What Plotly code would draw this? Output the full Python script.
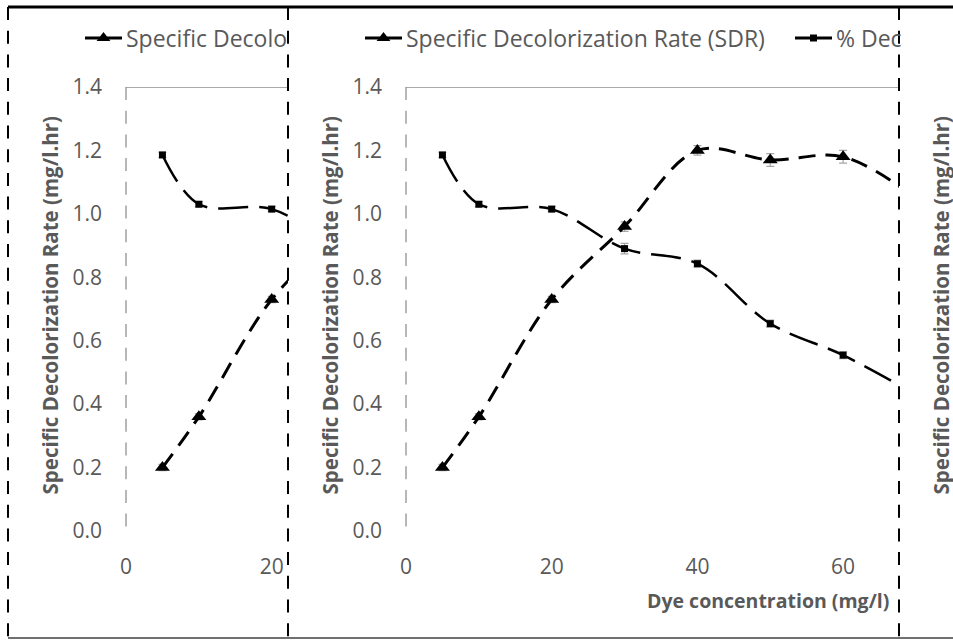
import plotly.graph_objects as go

W, H = 953, 640

# ---- data -------------------------------------------------------------
dye_conc = [5, 10, 20, 30, 40, 50, 60, 70]                 # mg/l
sdr = [0.20, 0.36, 0.73, 0.96, 1.20, 1.17, 1.18, 1.05]     # mg/l.hr
sdr_err = [0.01, 0.01, 0.01, 0.015, 0.015, 0.02, 0.02, 0.02]
pct_decol = [84.7, 73.6, 72.5, 63.6, 60.2, 46.7, 39.6, 30.7]  # %
pct_err = [0.6, 0.6, 0.6, 1.2, 0.8, 0.8, 0.8, 0.8]

y_tick_vals = [0.0, 0.2, 0.4, 0.6, 0.8, 1.0, 1.2, 1.4]
x_tick_vals = [0, 20, 40, 60]

sdr_name = "Specific Decolorization Rate (SDR)"
pct_name = "% Decolorization"
y_title = "Specific Decolorization Rate (mg/l.hr)"
x_title = "Dye concentration (mg/l)"

# ---- geometry helpers (pixel -> paper) --------------------------------
def px(x):
    return x / W


def py(y):
    return 1 - y / H


GREY_TXT = "#595959"
FONT = "Open Sans"
TICK_SIZE = 21
LEGEND_SIZE = 23
Y_TITLE_SIZE = 20.5
X_TITLE_SIZE = 19.5
BAND_DASH = "13px,10.7px"

# repeated chart strips: (left edge, right edge) in pixels
strips = [(8, 288), (288, 899), (899, 953)]
PLOT_OFFSET = 118          # strip edge -> plot-area left
PX_PER_UNIT = 7.285        # x-axis scale
Y_TOP_PX, Y_BOT_PX = 87, 531

fig = go.Figure()
layout = dict(
    width=W, height=H, autosize=False,
    margin=dict(l=0, r=0, t=0, b=0, pad=0),
    paper_bgcolor="white",
    plot_bgcolor="rgba(0,0,0,0)",
    showlegend=False,
    font=dict(family=FONT, color=GREY_TXT, size=17),
)
shapes = []
annotations = []

panel_idx = 0
for (left, right) in strips:
    plot_left = left + PLOT_OFFSET
    # y-axis title of every strip
    annotations.append(dict(
        x=px(left + 41.5), y=py(305), xref="paper", yref="paper",
        xanchor="center", yanchor="middle",
        text=y_title, textangle=-90, showarrow=False,
        font=dict(family=FONT, size=Y_TITLE_SIZE, color=GREY_TXT,
                  weight="bold"),
    ))
    if plot_left >= right:
        continue
    panel_idx += 1
    k = panel_idx
    xa = "x" if k == 1 else f"x{k}"
    ya = "y" if k == 1 else f"y{k}"
    ya2_num = 2 + k
    ya2 = f"y{ya2_num}"
    x_max = (right - plot_left) / PX_PER_UNIT

    layout[f"xaxis{'' if k == 1 else k}"] = dict(
        domain=[px(plot_left), px(right)], range=[0, x_max],
        anchor=ya, tickvals=x_tick_vals, showgrid=False, zeroline=False,
        showline=False, ticks="", ticklabelstandoff=21, automargin=False,
        tickfont=dict(family=FONT, size=TICK_SIZE, color=GREY_TXT),
    )
    layout[f"yaxis{'' if k == 1 else k}"] = dict(
        domain=[py(Y_BOT_PX), py(Y_TOP_PX)], range=[0, 1.4],
        anchor=xa, tickvals=y_tick_vals, tickformat=".1f",
        showgrid=False, zeroline=False, showline=False, ticks="",
        ticklabelstandoff=23, automargin=False,
        tickfont=dict(family=FONT, size=TICK_SIZE, color=GREY_TXT),
    )
    layout[f"yaxis{ya2_num}"] = dict(
        overlaying=ya, anchor=xa, side="right", range=[0, 100],
        visible=False, showgrid=False, zeroline=False, automargin=False,
    )

    # plot-area frame: left axis line and top border
    shapes.append(dict(type="line", xref=f"{xa} domain", yref=ya,
                       x0=0, x1=0, y0=1.4, y1=0,
                       line=dict(color="#a0a0a0", width=1.5, dash=BAND_DASH)))
    shapes.append(dict(type="line", xref=f"{xa} domain", yref=ya,
                       x0=0, x1=1, y0=1.4, y1=1.4,
                       line=dict(color="#8c8c8c", width=1.5)))

    fig.add_trace(go.Scatter(
        x=dye_conc, y=pct_decol, xaxis=xa, yaxis=ya2, name=pct_name,
        mode="lines+markers", line=dict(color="black", width=2.5,
                                        shape="spline", dash="30px,11px"),
        marker=dict(symbol="square", size=7, color="black"),
        error_y=dict(type="data", array=pct_err, color="#a6a6a6",
                     thickness=1.2, width=4),
    ))
    fig.add_trace(go.Scatter(
        x=dye_conc, y=sdr, xaxis=xa, yaxis=ya, name=sdr_name,
        mode="lines+markers", line=dict(color="black", width=3,
                                        shape="spline", dash="17px,10px"),
        marker=dict(symbol="triangle-up", size=13, color="black"),
        error_y=dict(type="data", array=sdr_err, color="#a6a6a6",
                     thickness=1.2, width=4),
    ))

# ---- overlay in pixel units for legend keys ----------------------------
layout["xaxis9"] = dict(domain=[0, 1], range=[0, W], visible=False,
                        anchor="y9", fixedrange=True, automargin=False)
layout["yaxis9"] = dict(domain=[0, 1], range=[H, 0], visible=False,
                        anchor="x9", fixedrange=True, automargin=False)

LEG_Y = 38
legend_keys = [
    (85, "triangle-up", 12, "Specific Decolo"),
    (365, "triangle-up", 12, sdr_name),
    (795, "square", 7, "% Dec"),
]
for x0, sym, size, label in legend_keys:
    fig.add_trace(go.Scatter(
        x=[x0, x0 + 37], y=[LEG_Y, LEG_Y], xaxis="x9", yaxis="y9",
        mode="lines", line=dict(color="black", width=3), hoverinfo="skip",
    ))
    fig.add_trace(go.Scatter(
        x=[x0 + 18.5], y=[LEG_Y], xaxis="x9", yaxis="y9",
        mode="markers", marker=dict(symbol=sym, size=size, color="black"),
        hoverinfo="skip",
    ))
    annotations.append(dict(
        x=px(x0 + 39), y=py(LEG_Y), xref="paper", yref="paper",
        xanchor="left", yanchor="middle", text=label, showarrow=False,
        font=dict(family=FONT, size=LEGEND_SIZE, color=GREY_TXT),
    ))

# x-axis title
annotations.append(dict(
    x=px(768), y=py(600), xref="paper", yref="paper",
    xanchor="center", yanchor="middle", text=x_title,
    showarrow=False, font=dict(family=FONT, size=X_TITLE_SIZE,
                               color=GREY_TXT, weight="bold"),
))

# ---- outer frame and strip separators ----------------------------------
shapes.append(dict(type="line", xref="paper", yref="paper",
                   x0=px(8), x1=px(W), y0=py(7), y1=py(7),
                   line=dict(color="black", width=3)))
shapes.append(dict(type="line", xref="paper", yref="paper",
                   x0=px(8), x1=px(W), y0=py(638), y1=py(638),
                   line=dict(color="#404040", width=1.5)))
for xs in (8, 288, 899):
    shapes.append(dict(type="line", xref="paper", yref="paper",
                       x0=px(xs), x1=px(xs), y0=py(7), y1=py(638),
                       line=dict(color="black", width=2, dash=BAND_DASH)))

layout["shapes"] = shapes
layout["annotations"] = annotations
fig.update_layout(**layout)
fig.write_html("out.html")
